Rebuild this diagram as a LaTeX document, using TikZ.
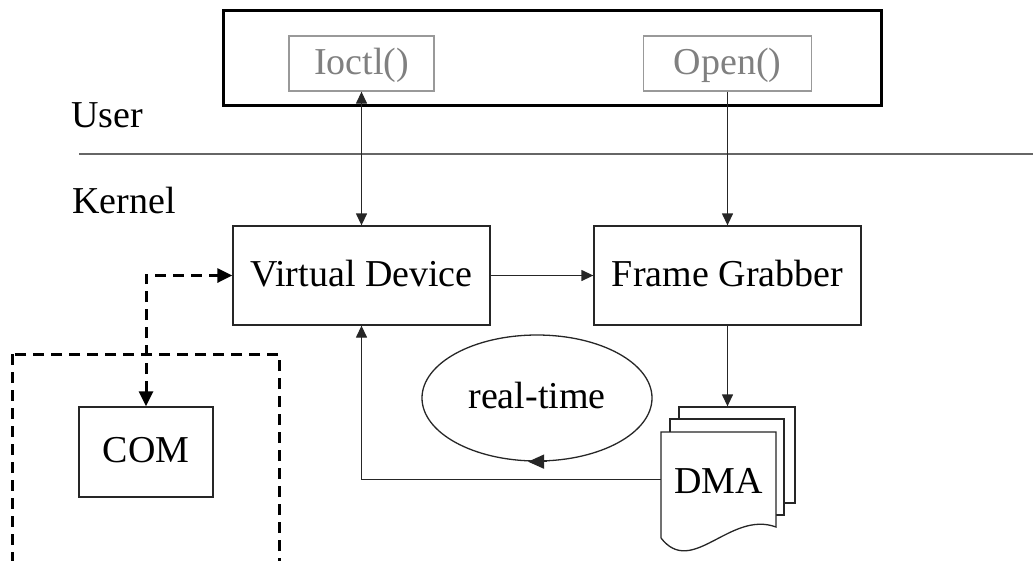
\documentclass[tikz,border=0pt]{standalone}
\usepackage{fontspec}
\setmainfont{Liberation Serif}
\usetikzlibrary{arrows.meta,shapes.geometric,calc}
\begin{document}
\begin{tikzpicture}[x=1pt,y=-1pt,
  lbl/.style={font=\fontsize{38}{42}\selectfont, text height=27pt, text depth=6pt, inner sep=0pt},
  box/.style={lbl, draw=black!85, line width=1.3pt, fill=white},
  callbox/.style={lbl, draw=black!40, text=black!50, line width=1.3pt},
  sheet/.style={draw=black!85, line width=1.3pt, fill=white},
  conn/.style={draw=black!85, line width=1.3pt, -{Triangle[length=12pt,width=11pt]}},
  dconn/.style={draw=black, line width=3pt, dash pattern=on 11pt off 7pt,
    {Triangle[length=15pt,width=14pt]}-{Triangle[length=15pt,width=14pt]}},
  dashbox/.style={draw=black, line width=3pt, dash pattern=on 11pt off 7pt},
  sep/.style={draw=black!60, line width=1.5pt}
]
\useasboundingbox (0,0) rectangle (1033,560);

% user space frame with the two calls
\node[draw=black, line width=3.2pt, minimum width=658pt, minimum height=95pt, inner sep=0pt] (userspace) at (552.5,58) {};
\node[callbox, minimum width=145pt, minimum height=55pt] (ioctl) at (361.5,63.5) {Ioctl()};
\node[callbox, minimum width=168pt, minimum height=55pt] (open) at (727.5,63.5) {Open()};

% user / kernel boundary
\node[lbl, anchor=base west] (user) at (71,127) {User};
\node[lbl, anchor=base west] (kernel) at (72,213) {Kernel};
\coordinate (sepL) at (79,154);
\coordinate (sepR) at (1033,154);
\draw[sep] (sepL) -- (sepR);

% kernel blocks
\node[box, minimum width=257pt, minimum height=99pt] (vd) at (361.5,275.5) {Virtual Device};
\node[box, minimum width=267pt, minimum height=99pt] (fg) at (727.5,275.5) {Frame Grabber};

% COM port region
\draw[dashbox] (12,354) rectangle (279,562);
\node[box, minimum width=134pt, minimum height=90pt] (com) at (146,452) {COM};

% real-time loop
\node[lbl, ellipse, draw=black!85, line width=1.3pt, minimum width=230pt, minimum height=126pt] (rt) at (537,398) {real-time};
\draw[draw=black!85, line width=1.3pt, -{Triangle[length=16pt,width=14pt]}] ($(rt.south)+(10,0)$) -- ($(rt.south)+(-9,0)$);

% DMA buffer stack
\node[sheet, minimum width=116pt, minimum height=96pt, inner sep=0pt] (dmaback) at (737,455) {};
\node[sheet, minimum width=114pt, minimum height=96pt, inner sep=0pt] (dmamid) at (727,467) {};
\draw[sheet] (661,538) -- (661,432) -- (776,432) -- (776,527)
  .. controls (730,510) and (692,578) .. (661,538);
\node[lbl, text height=27pt, text depth=0pt, minimum width=115pt, minimum height=95pt] (dma) at (718.5,479.5) {DMA};

% connectors
\draw[conn, {Triangle[length=12pt,width=11pt]}-{Triangle[length=12pt,width=11pt]}] (ioctl.south) -- (vd.north);
\draw[conn] (open.south) -- (fg.north);
\draw[conn] (vd.east) -- (fg.west);
\draw[conn] (fg.south) -- (fg.south |- dmaback.north);
\draw[conn] (dma.west) -| (vd.south);
\draw[dconn] (com.north) |- (vd.west);
\end{tikzpicture}
\end{document}
